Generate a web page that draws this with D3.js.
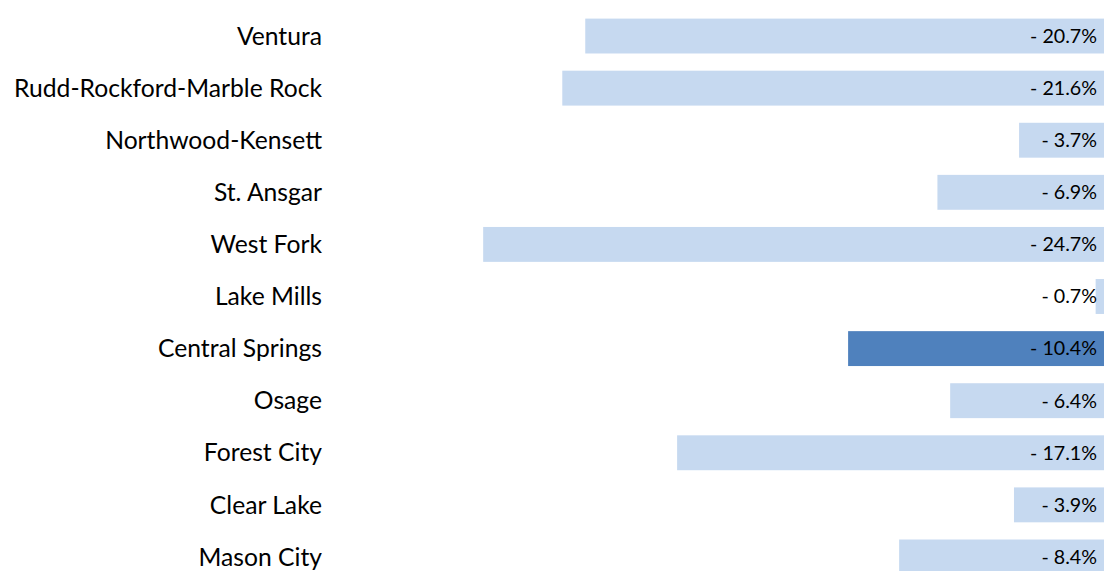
<!DOCTYPE html>
<html><head><meta charset="utf-8">
<script src="https://cdn.jsdelivr.net/npm/d3@7"></script>
<style>body{margin:0;background:#fff}svg{display:block}</style>
</head><body>
<svg id="c" width="1104" height="571"></svg>
<script>
const categories = ["Ventura","Rudd-Rockford-Marble Rock","Northwood-Kensett","St. Ansgar","West Fork","Lake Mills","Central Springs","Osage","Forest City","Clear Lake","Mason City"];
const values = [-20.7,-21.6,-3.7,-6.9,-24.7,-0.7,-10.4,-6.4,-17.1,-3.9,-8.4];
const highlight = ["Central Springs"];

const svg = d3.select("#c");
const x = d3.scaleLinear().domain([-26,0]).range([450,1113.5]);
const y = d3.scaleBand().domain(categories).range([10,583]).paddingInner(0.33).paddingOuter(0.165);

svg.selectAll("rect").data(categories).join("rect")
  .attr("x",(d,i)=>x(values[i])).attr("width",(d,i)=>x(0)-x(values[i]))
  .attr("y",d=>y(d)).attr("height",y.bandwidth())
  .attr("fill",d=>highlight.includes(d)?"#4f81bd":"#c6d9f0");

const font = "Lato, 'Open Sans', sans-serif";
const cl = svg.selectAll("text.cat").data(categories).join("text").attr("class","cat")
  .attr("x",322).attr("y",d=>y(d)+y.bandwidth()/2).attr("dy","0.35em")
  .attr("text-anchor","end").attr("font-family",font).attr("font-size",20).attr("fill","#000")
  .text(d=>d);
// fit widest label to reference width
let w = d3.max(cl.nodes(),n=>n.getComputedTextLength());
cl.attr("font-size",20*308/w);

const fmt = v => "- " + Math.abs(v).toFixed(1) + "%";
const vl = svg.selectAll("text.val").data(categories).join("text").attr("class","val")
  .attr("x",1097).attr("y",d=>y(d)+y.bandwidth()/2).attr("dy","0.35em")
  .attr("text-anchor","end").attr("font-family",font).attr("font-size",16).attr("fill","#000")
  .text((d,i)=>fmt(values[i]));
let w2 = vl.nodes()[0].getComputedTextLength();
vl.attr("font-size",16*67/w2);
</script>
</body></html>
